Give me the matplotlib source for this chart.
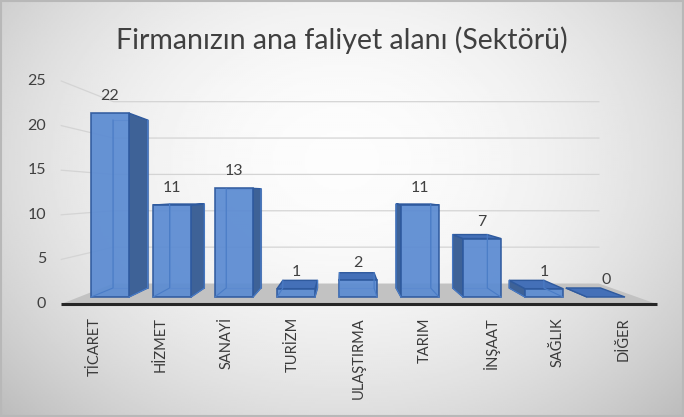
import numpy as np
import matplotlib.pyplot as plt
from matplotlib.patches import Polygon

plt.rcParams['font.family'] = ['Lato', 'DejaVu Sans']

# data
title = 'Firmanızın ana faliyet alanı (Sektörü)'
sectors = ['TİCARET', 'HİZMET', 'SANAYİ', 'TURİZM', 'ULAŞTIRMA',
           'TARIM', 'İNŞAAT', 'SAĞLIK', 'DİĞER']
counts = [22, 11, 13, 1, 2, 11, 7, 1, 0]
y_ticks = [0, 5, 10, 15, 20, 25]

# perspective: vanishing point in data units, depth given as a scale factor
VX, VY = 3.77, 12.44
S_FLOOR_FRONT, S_BAR_BACK, S_WALL = 1.067, 0.913, 0.87
HALF_W = 0.306


def proj(x, v, s):
    return VX + s * (x - VX), VY + s * (v - VY)


fig = plt.figure(figsize=(6.84, 4.17), dpi=100)

# background gradient
bg = fig.add_axes([0, 0, 1, 1])
X, Y = np.meshgrid(np.linspace(0, 684, 342), np.linspace(0, 417, 209))
r2 = ((X - 342) / 420) ** 2 + ((Y - 160) / 330) ** 2
bg.imshow(np.clip(0.99 - 0.2 * r2, 0, 1), cmap='gray', vmin=0, vmax=1,
          extent=[0, 684, 417, 0], aspect='auto')
bg.add_patch(plt.Rectangle((1, 1), 682, 415, fill=False, ec='#b8b8b8', lw=1.5))
bg.set_xlim(0, 684)
bg.set_ylim(417, 0)
bg.axis('off')

ax = fig.add_axes([0, 0, 1, 1])
ax.set_facecolor('none')
ax.set_xlim(-1.774, 9.258)
ax.set_ylim(-14.35, 35.53)
ax.axis('off')

left, right = -0.5, len(sectors) - 0.5

# gridlines on left wall and back wall
for v in y_ticks[1:]:
    p0 = proj(left, v, S_FLOOR_FRONT)
    p1 = proj(left, v, S_WALL)
    p2 = proj(right, v, S_WALL)
    ax.plot([p0[0], p1[0], p2[0]], [p0[1], p1[1], p2[1]],
            color='#d4d4d4', lw=0.9, zorder=1)

# floor
floor = [proj(left, 0, S_FLOOR_FRONT), proj(right, 0, S_FLOOR_FRONT),
         proj(right, 0, S_WALL), proj(left, 0, S_WALL)]
ax.add_patch(Polygon(floor, closed=True, fc='#c2c2c2', ec='none', zorder=2))
f0, f1 = floor[0], floor[1]
ax.plot([f0[0], f1[0]], [f0[1], f1[1]], color='#262626', lw=2.2, zorder=2,
        solid_capstyle='butt')

# y tick labels
for v in y_ticks:
    ax.annotate(str(v), proj(left, v, S_FLOOR_FRONT), xytext=(-15, 0),
                textcoords='offset pixels', ha='right', va='center',
                fontsize=11.5, color='#404040', zorder=6)

front_c, side_c, top_c, edge_c = '#5b8bd2', '#3e6297', '#4470b8', '#2f5a9e'

for i, (name, h) in enumerate(zip(sectors, counts)):
    x0, x1 = i - HALF_W, i + HALF_W
    fr = [proj(x0, 0, 1), proj(x1, 0, 1), proj(x1, h, 1), proj(x0, h, 1)]
    bk = [proj(x0, 0, S_BAR_BACK), proj(x1, 0, S_BAR_BACK),
          proj(x1, h, S_BAR_BACK), proj(x0, h, S_BAR_BACK)]
    z = 3
    # hidden back edges
    ax.plot([p[0] for p in bk + bk[:1]], [p[1] for p in bk + bk[:1]],
            color=edge_c, lw=0.8, alpha=0.6, zorder=z)
    if x1 < VX:
        ax.add_patch(Polygon([fr[1], bk[1], bk[2], fr[2]], fc=side_c,
                             ec=edge_c, lw=1, zorder=z + 0.1))
    if x0 > VX:
        ax.add_patch(Polygon([fr[0], bk[0], bk[3], fr[3]], fc=side_c,
                             ec=edge_c, lw=1, zorder=z + 0.1))
    if h < VY:
        ax.add_patch(Polygon([fr[3], fr[2], bk[2], bk[3]], fc=top_c,
                             ec=edge_c, lw=1, zorder=z + 0.2))
    if h > 0:
        ax.add_patch(Polygon(fr, fc=front_c, ec=edge_c, lw=1.2, alpha=0.93,
                             zorder=z + 0.3))
        for k in (0, 1):
            ax.plot([fr[k][0], bk[k][0], bk[k][0]],
                    [fr[k][1], bk[k][1], bk[k + 3 if k == 0 else 2][1]],
                    color='#4a7cc6', lw=0.8, zorder=z + 0.35)

    # value label
    ax.annotate(str(h), proj(i, h, 1), xytext=(0, 17),
                textcoords='offset pixels', ha='center', va='center',
                fontsize=11.5, color='#404040', zorder=6)
    # category label
    ax.annotate(name, proj(i, 0, S_FLOOR_FRONT), xytext=(0, -13),
                textcoords='offset pixels', ha='center', va='top',
                rotation=90, fontsize=10.5, color='#3a3a3a', zorder=6)

fig.text(0.5, 1 - 40 / 417, title, ha='center', va='center',
         fontsize=20.5, color='#404040')

fig.savefig('out.png', dpi=100)
